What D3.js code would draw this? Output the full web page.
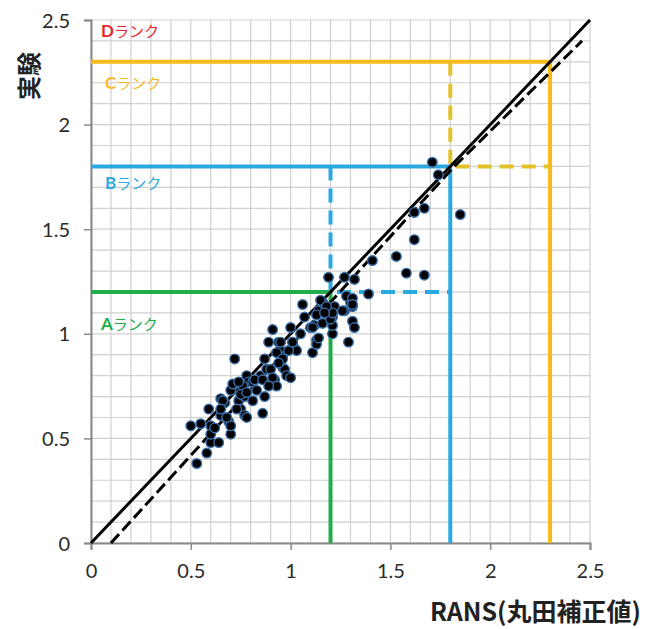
<!DOCTYPE html>
<html lang="ja">
<head>
<meta charset="UTF-8">
<title>RANS vs 実験</title>
<script src="https://d3js.org/d3.v7.min.js"></script>
<style>
  body { margin: 0; background: #fff; }
  .tick text { font-family: Lato, "Open Sans", sans-serif; font-size: 20px; fill: #2a2a2a; }
</style>
</head>
<body>
<svg id="chart" width="654" height="629"></svg>
<script>
// measured points: [RANS, experiment]
const points = [
  [0.53,0.38],[0.50,0.56],[0.55,0.57],[0.58,0.43],[0.59,0.64],[0.60,0.48],[0.60,0.56],[0.60,0.52],
  [0.64,0.48],[0.62,0.55],[0.65,0.61],[0.65,0.69],[0.67,0.67],[0.69,0.58],[0.70,0.52],[0.70,0.56],
  [0.70,0.73],[0.71,0.76],[0.72,0.88],[0.74,0.68],[0.75,0.64],[0.77,0.70],[0.77,0.61],[0.78,0.80],
  [0.79,0.77],[0.78,0.60],[0.81,0.68],[0.81,0.77],[0.83,0.73],[0.85,0.80],[0.86,0.62],[0.87,0.70],
  [0.88,0.83],[0.89,0.96],[0.91,1.02],[0.92,0.78],[0.93,0.75],[0.94,0.96],[0.95,0.92],[0.96,0.84],
  [0.96,0.89],[0.97,0.83],[0.98,0.80],[1.00,1.03],[1.01,0.96],[1.02,0.93],[1.03,0.92],[1.05,1.00],
  [1.06,1.14],[1.07,1.08],[1.10,1.03],[1.11,0.91],[1.12,1.04],[1.13,0.97],[1.14,1.11],[1.16,1.05],
  [1.16,1.15],[1.21,1.08],[1.21,1.00],[1.21,1.04],[1.22,1.13],[1.27,1.11],[1.29,0.96],[1.31,1.06],
  [1.32,1.03],[1.31,1.13],[1.30,1.15],[1.00,0.79],[0.99,0.92],[0.93,0.91],[0.96,0.88],[0.94,0.86],
  [0.87,0.88],[0.90,0.83],[0.82,0.78],[0.86,0.78],[0.91,0.79],[0.76,0.75],[0.74,0.77],[0.95,0.96],
  [1.13,0.95],[1.11,1.03],[1.18,1.11],[1.16,1.15],[1.20,1.07],[1.14,0.98],[0.66,0.68],[0.73,0.64],
  [0.75,0.71],[0.78,0.72],[0.89,0.75],[0.68,0.60],[0.65,0.64],
  [1.71,1.82],[1.74,1.76],[1.85,1.57],[1.62,1.58],[1.67,1.60],[1.62,1.45],[1.53,1.37],[1.41,1.35],
  [1.58,1.29],[1.67,1.28],[1.39,1.19],[1.19,1.27],[1.27,1.27],[1.32,1.26],[1.28,1.18],[1.31,1.17],
  [1.21,1.10],[1.15,1.16],[1.13,1.09],[1.18,1.13],[1.17,1.10],[1.26,1.11],[1.31,1.14],[1.01,0.96]
];

const identityLine = [[0, 0], [2.5, 2.5]];
const fitLine = [[0.1, 0], [1.82, 1.8], [2.46, 2.40]];

// rank thresholds (solid box corner) and previous threshold (dashed box corner)
const ranks = [
  {name: "A", limit: 1.2, prev: null, color: "#22AC4C", dashColor: null, label: [0.05, 1.02]},
  {name: "B", limit: 1.8, prev: 1.2,  color: "#29A9E0", dashColor: "#29A9E0", label: [0.07, 1.69]},
  {name: "C", limit: 2.3, prev: 1.8,  color: "#F6BB1B", dashColor: "#E2C12A", label: [0.07, 2.17]},
  {name: "D", limit: null, prev: null, color: "#E8262A", dashColor: null, label: [0.05, 2.42]}
];

const xTicks = [0, 0.5, 1, 1.5, 2, 2.5];
const yTicks = [0, 0.5, 1, 1.5, 2, 2.5];

const svg = d3.select("#chart");
const margin = {top: 20, right: 64, bottom: 86, left: 91};
const width = 654 - margin.left - margin.right;
const height = 629 - margin.top - margin.bottom;

const x = d3.scaleLinear().domain([0, 2.5]).range([0, width]);
const y = d3.scaleLinear().domain([0, 2.5]).range([height, 0]);

const g = svg.append("g").attr("transform", `translate(${margin.left},${margin.top})`);

// grid every 0.1
const grid = d3.range(0, 26).map(i => i / 10);
g.append("g").selectAll("line").data(grid).join("line")
  .attr("x1", d => x(d)).attr("x2", d => x(d))
  .attr("y1", 0).attr("y2", height)
  .attr("stroke", "#d0d0d0").attr("stroke-width", 1.2);
g.append("g").selectAll("line").data(grid).join("line")
  .attr("x1", 0).attr("x2", width)
  .attr("y1", d => y(d)).attr("y2", d => y(d))
  .attr("stroke", "#d0d0d0").attr("stroke-width", 1.2);

// axes
const xAxis = g.append("g").attr("transform", `translate(0,${height})`)
  .call(d3.axisBottom(x).tickValues(xTicks).tickSize(7).tickPadding(14).tickFormat(d3.format("")));
const yAxis = g.append("g")
  .call(d3.axisLeft(y).tickValues(yTicks).tickSize(7).tickPadding(14).tickFormat(d3.format("")));
[xAxis, yAxis].forEach(a => {
  a.select(".domain").attr("stroke", "#888").attr("stroke-width", 2);
  a.selectAll(".tick line").attr("stroke", "#888").attr("stroke-width", 1.5);
});
yAxis.selectAll(".tick text").attr("dy", "0.35em");

const line = d3.line().x(d => x(d[0])).y(d => y(d[1]));

// rank boxes
ranks.filter(r => r.limit).forEach(r => {
  g.append("path")
    .attr("d", line([[0, r.limit], [r.limit, r.limit], [r.limit, 0]]))
    .attr("fill", "none").attr("stroke", r.color).attr("stroke-width", 4);
  if (r.prev) {
    g.append("path")
      .attr("d", line([[r.prev, r.limit], [r.prev, r.prev], [r.limit, r.prev]]))
      .attr("fill", "none").attr("stroke", r.dashColor).attr("stroke-width", 4)
      .attr("stroke-dasharray", "14,8");
  }
});

// reference lines
g.append("path").attr("d", line(identityLine))
  .attr("fill", "none").attr("stroke", "#000").attr("stroke-width", 3);
g.append("path").attr("d", line(fitLine))
  .attr("fill", "none").attr("stroke", "#000").attr("stroke-width", 3)
  .attr("stroke-dasharray", "12,5");

// scatter
g.append("g").selectAll("circle").data(points).join("circle")
  .attr("cx", d => x(d[0])).attr("cy", d => y(d[1]))
  .attr("r", 4.8)
  .attr("fill", "#000").attr("stroke", "#3a70aa").attr("stroke-width", 1.4);

// rank labels
ranks.forEach(r => {
  const t = g.append("text")
    .attr("x", x(r.label[0])).attr("y", y(r.label[1]))
    .attr("fill", r.color)
    .style("font-family", "'Noto Sans CJK JP', sans-serif")
    .style("font-size", "15px");
  t.append("tspan").text(r.name).style("font-weight", "bold").style("font-family", "Lato, sans-serif").style("font-size", "17px");
  t.append("tspan").text("ランク");
});

// axis titles
svg.append("text")
  .attr("x", 641).attr("y", 621)
  .attr("text-anchor", "end")
  .style("font-family", "'Noto Sans CJK JP', sans-serif")
  .style("font-weight", "bold").style("font-size", "25px").attr("fill", "#222")
  .text("RANS(丸田補正値)");

svg.append("text")
  .attr("transform", "translate(38,76) rotate(-90)")
  .attr("text-anchor", "middle")
  .style("font-family", "'Noto Sans CJK JP', sans-serif")
  .style("font-weight", "bold").style("font-size", "24px").attr("fill", "#222")
  .text("実験");
</script>
</body>
</html>
